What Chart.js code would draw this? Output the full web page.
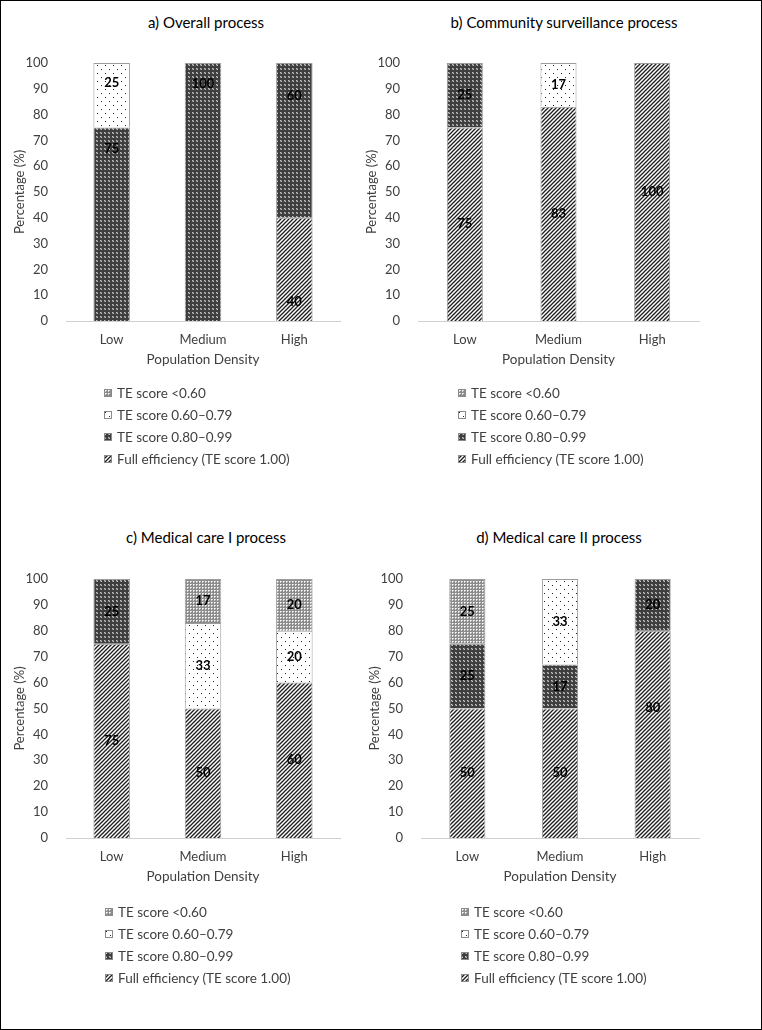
<!DOCTYPE html>
<html>
<head>
<meta charset="utf-8">
<script src="https://cdn.jsdelivr.net/npm/chart.js@4.4.1/dist/chart.umd.min.js"></script>
<style>
body { margin: 0; background: #fff; font-family: Lato, "Open Sans", sans-serif; }
#frame { position: relative; width: 762px; height: 1030px; box-sizing: border-box; border: 1px solid #000; overflow: hidden; background: #fff; }
.title { position: absolute; font-size: 15px; line-height: 18px; color: #000; white-space: nowrap; transform: translateX(-50%); }
.cv { position: absolute; }
.legend { position: absolute; font-size: 13.5px; color: #404040; }
.legend .item { height: 22px; display: flex; align-items: center; white-space: nowrap; }
.legend canvas { margin-right: 5px; }
</style>
</head>
<body>
<div id="frame">
  <div class="title" style="left:205px;top:12px">a) Overall process</div>
  <div class="title" style="left:563px;top:12px">b) Community surveillance process</div>
  <div class="title" style="left:205px;top:527px">c) Medical care I process</div>
  <div class="title" style="left:558px;top:527px">d) Medical care II process</div>

  <canvas id="chartA" class="cv" style="left:-1px;top:39px" width="371" height="335"></canvas>
  <canvas id="chartB" class="cv" style="left:351px;top:39px" width="410" height="335"></canvas>
  <canvas id="chartC" class="cv" style="left:-1px;top:555px" width="371" height="336"></canvas>
  <canvas id="chartD" class="cv" style="left:354px;top:555px" width="407" height="336"></canvas>

  <div id="legA" class="legend" style="left:103px;top:381px"></div>
  <div id="legB" class="legend" style="left:457px;top:381px"></div>
  <div id="legC" class="legend" style="left:104px;top:900px"></div>
  <div id="legD" class="legend" style="left:460px;top:900px"></div>
</div>

<script>
var categories = ['Low', 'Medium', 'High'];
var seriesNames = ['Full efficiency (TE score 1.00)', 'TE score 0.80\u20130.99', 'TE score 0.60\u20130.79', 'TE score <0.60'];
var yTicks = [0, 10, 20, 30, 40, 50, 60, 70, 80, 90, 100];

// a) Overall process (% of units per group)
var overallFull = [0, 0, 40];
var overallHigh = [75, 100, 60];
var overallMid = [25, 0, 0];
var overallLow = [0, 0, 0];

// b) Community surveillance process
var communityFull = [75, 83, 100];
var communityHigh = [25, 0, 0];
var communityMid = [0, 17, 0];
var communityLow = [0, 0, 0];

// c) Medical care I process
var medical1Full = [75, 50, 60];
var medical1High = [25, 0, 0];
var medical1Mid = [0, 33, 20];
var medical1Low = [0, 17, 20];

// d) Medical care II process
var medical2Full = [50, 50, 80];
var medical2High = [25, 17, 20];
var medical2Mid = [0, 33, 0];
var medical2Low = [25, 0, 0];

// where each value label sits inside its segment (0 bottom, 1 top), default middle
var labelPosA = { 0: { 2: 0.19 }, 1: { 0: 0.89, 1: 0.92, 2: 0.79 }, 2: { 0: 0.69 } };
var labelPosD = { 0: { 2: 0.63 } };

function makeTile(kind) {
    var c = document.createElement('canvas');
    var g = c.getContext('2d');
    if (kind === 'hatch') {
        c.width = 4; c.height = 4;
        g.fillStyle = '#fff'; g.fillRect(0, 0, 4, 4);
        g.strokeStyle = '#1e1e1e'; g.lineWidth = 1.3;
        g.beginPath(); g.moveTo(-1, 5); g.lineTo(5, -1); g.stroke();
        g.beginPath(); g.moveTo(-1, 1); g.lineTo(1, -1); g.stroke();
        g.beginPath(); g.moveTo(3, 5); g.lineTo(5, 3); g.stroke();
    } else if (kind === 'dark') {
        c.width = 4; c.height = 4;
        g.fillStyle = '#3e3e3e'; g.fillRect(0, 0, 4, 4);
        g.fillStyle = '#c4c4c4'; g.fillRect(0, 0, 1, 1); g.fillRect(1, 1, 1, 1);
        g.fillStyle = '#777'; g.fillRect(1, 0, 1, 1); g.fillRect(0, 1, 1, 1);
    } else if (kind === 'dots') {
        c.width = 8; c.height = 8;
        g.fillStyle = '#fff'; g.fillRect(0, 0, 8, 8);
        g.fillStyle = '#222'; g.fillRect(1, 1, 1, 1); g.fillRect(5, 5, 1, 1);
    } else {
        c.width = 3; c.height = 3;
        g.fillStyle = '#8c8c8c'; g.fillRect(0, 0, 3, 3);
        g.fillStyle = '#fff'; g.fillRect(1, 1, 1, 1);
        g.fillStyle = '#d4d4d4'; g.fillRect(2, 1, 1, 1); g.fillRect(1, 2, 1, 1);
    }
    return c;
}

var tileKinds = ['hatch', 'dark', 'dots', 'light'];

function pattern(ctx, kind) {
    return ctx.createPattern(makeTile(kind), 'repeat');
}

var segLabels = {
    id: 'segLabels',
    afterDatasetsDraw: function (chart) {
        var ctx = chart.ctx;
        var pos = chart.options.plugins.segLabels.pos || {};
        ctx.save();
        ctx.font = 'bold 13px Lato';
        ctx.fillStyle = '#000';
        ctx.textAlign = 'center';
        ctx.textBaseline = 'middle';
        chart.data.datasets.forEach(function (ds, i) {
            var meta = chart.getDatasetMeta(i);
            meta.data.forEach(function (bar, j) {
                var v = ds.data[j];
                if (!v) return;
                var f = (pos[i] && pos[i][j] != null) ? pos[i][j] : 0.5;
                ctx.fillText(String(v), bar.x, bar.base + (bar.y - bar.base) * f);
            });
        });
        ctx.restore();
    }
};

function buildChart(id, series, padRight, barPct, pos) {
    var ctx = document.getElementById(id).getContext('2d');
    var datasets = series.map(function (vals, i) {
        return {
            label: seriesNames[i],
            data: vals,
            backgroundColor: pattern(ctx, tileKinds[i]),
            borderColor: '#9c9c9c',
            borderWidth: 1,
            barPercentage: barPct,
            categoryPercentage: 1
        };
    });
    return new Chart(ctx, {
        type: 'bar',
        data: { labels: categories, datasets: datasets },
        plugins: [segLabels],
        options: {
            responsive: false,
            animation: false,
            layout: { padding: { left: 0, right: padRight, top: 23, bottom: 0 } },
            plugins: {
                legend: { display: false },
                tooltip: { enabled: false },
                segLabels: { pos: pos }
            },
            scales: {
                x: {
                    stacked: true,
                    grid: { display: false },
                    border: { display: true, color: '#d0d0d0', width: 1 },
                    ticks: { color: '#404040', font: { family: 'Lato', size: 13 }, padding: 3 },
                    title: { display: true, text: 'Population Density', color: '#404040', font: { family: 'Lato', size: 13.5 }, padding: { top: 0, bottom: 7 } },
                    afterFit: function (s) { s.height = 54; }
                },
                y: {
                    stacked: true,
                    min: 0,
                    max: 100,
                    afterBuildTicks: function (s) { s.ticks = yTicks.map(function (v) { return { value: v }; }); },
                    grid: { display: false },
                    border: { display: false },
                    ticks: { color: '#404040', font: { family: 'Lato', size: 13 }, padding: 10 },
                    title: { display: true, text: 'Percentage (%)', color: '#404040', font: { family: 'Lato', size: 13 }, padding: { top: 12, bottom: 0 } },
                    afterFit: function (s) { s.width = 66; }
                }
            }
        }
    });
}

function buildLegend(id) {
    var box = document.getElementById(id);
    for (var i = seriesNames.length - 1; i >= 0; i--) {
        var row = document.createElement('div');
        row.className = 'item';
        var sw = document.createElement('canvas');
        sw.width = 8; sw.height = 8;
        var g = sw.getContext('2d');
        g.fillStyle = g.createPattern(makeTile(tileKinds[i]), 'repeat');
        g.fillRect(0, 0, 8, 8);
        g.strokeStyle = '#8a8a8a';
        g.strokeRect(0.5, 0.5, 7, 7);
        row.appendChild(sw);
        var t = document.createElement('span');
        t.textContent = seriesNames[i];
        row.appendChild(t);
        box.appendChild(row);
    }
}

buildChart('chartA', [overallFull, overallHigh, overallMid, overallLow], 31, 0.40, labelPosA);
buildChart('chartB', [communityFull, communityHigh, communityMid, communityLow], 63, 0.385, {});
buildChart('chartC', [medical1Full, medical1High, medical1Mid, medical1Low], 31, 0.40, {});
buildChart('chartD', [medical2Full, medical2High, medical2Mid, medical2Low], 63, 0.39, labelPosD);

buildLegend('legA');
buildLegend('legB');
buildLegend('legC');
buildLegend('legD');
</script>
</body>
</html>
